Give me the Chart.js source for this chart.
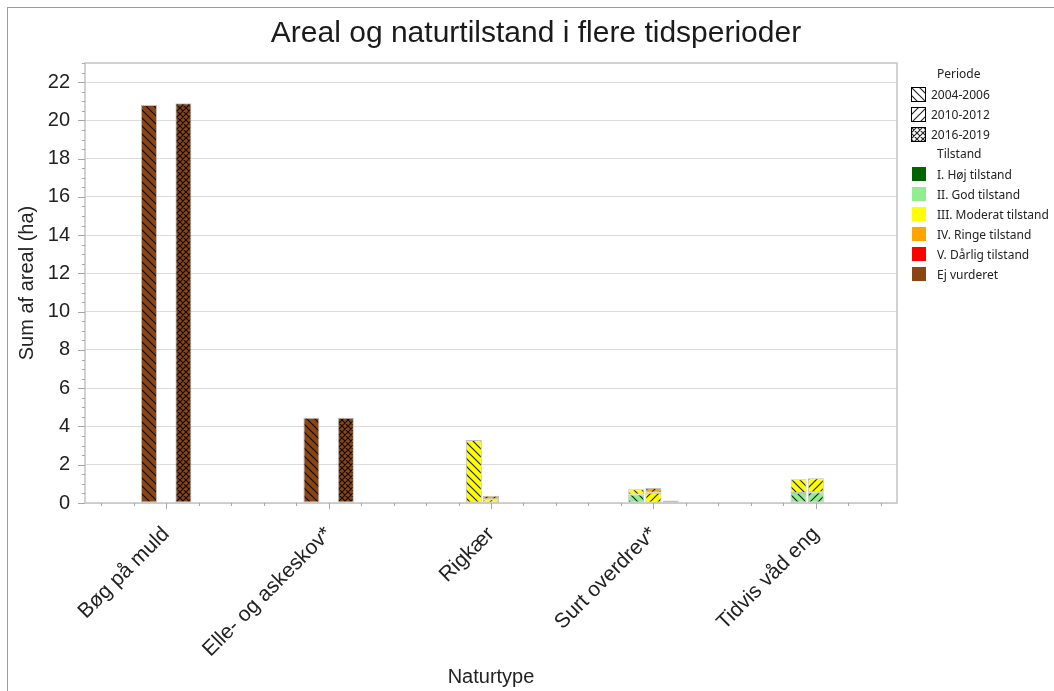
<!DOCTYPE html>
<html>
<head>
<meta charset="utf-8">
<script src="https://cdn.jsdelivr.net/npm/chart.js@4.4.1/dist/chart.umd.min.js"></script>
<style>
    html, body { margin: 0; padding: 0; background: #fff; overflow: hidden; }
    #wrap { position: relative; width: 1054px; height: 691px; }
    #frame { position: absolute; left: 7px; top: 7px; width: 1100px; height: 700px;
             border-left: 1px solid #9c9c9c; border-top: 1px solid #9c9c9c; }
    #title { position: absolute; left: 536px; top: 15px; transform: translateX(-50%);
             white-space: nowrap; font: 30px 'Liberation Sans', Arial, sans-serif; color: #1b1b1b; }
    #chart { position: absolute; left: 0; top: 0; }
    #legend { position: absolute; left: 911px; top: 64px; font: 12px 'Noto Sans', sans-serif; color: #222; }
    .head { height: 20px; line-height: 20px; padding-left: 26px; }
    .row { display: flex; align-items: center; height: 20px; white-space: nowrap; }
    .row canvas { flex: none; margin-right: 5px; }
    .row span.box { flex: none; margin-right: 10px; }
    span.box { display: inline-block; width: 16px; height: 16px; border: 1px solid #fff; box-sizing: border-box; }
</style>
</head>
<body>
<div id="wrap">
    <div id="frame"></div>
    <canvas id="chart" width="1054" height="691"></canvas>
    <div id="title">Areal og naturtilstand i flere tidsperioder</div>
    <div id="legend"></div>
</div>
<script>
// Categories, periods and condition classes
const categories = ['Bøg på muld', 'Elle- og askeskov*', 'Rigkær', 'Surt overdrev*', 'Tidvis våd eng'];
const periods = ['2004-2006', '2010-2012', '2016-2019'];
const states = ['I. Høj tilstand', 'II. God tilstand', 'III. Moderat tilstand',
    'IV. Ringe tilstand', 'V. Dårlig tilstand', 'Ej vurderet'];
const stateColors = ['#006400', '#90ee90', '#ffff00', '#ffa500', '#ff0000', '#8b4513'];
const periodHatch = ['back', 'fwd', 'cross'];

// Areal (ha) per periode og tilstand, null = intet areal
const p2004God = [null, null, null, 0.45, 0.52];
const p2004Moderat = [null, null, 3.29, 0.27, 0.72];
const p2004Ej = [20.8, 4.46, null, null, null];

const p2010God = [null, null, null, null, 0.56];
const p2010Moderat = [null, null, 0.2, 0.53, 0.73];
const p2010Ringe = [null, null, 0.18, 0.25, null];

const p2016God = [null, null, null, 0.13, null];
const p2016Ej = [20.9, 4.46, null, null, null];

// Y axis ticks
const yTicks = [0, 2, 4, 6, 8, 10, 12, 14, 16, 18, 20, 22];
const yMax = 23;

// series in stacking order (bottom to top) for each period
const series = [
    { period: 0, state: 1, values: p2004God },
    { period: 0, state: 2, values: p2004Moderat },
    { period: 0, state: 5, values: p2004Ej },
    { period: 1, state: 1, values: p2010God },
    { period: 1, state: 2, values: p2010Moderat },
    { period: 1, state: 3, values: p2010Ringe },
    { period: 2, state: 1, values: p2016God },
    { period: 2, state: 5, values: p2016Ej }
];

const canvas = document.getElementById('chart');
const ctx = canvas.getContext('2d');

// Hatch fill: base colour + black diagonal lines
function hatchTile(color, kind) {
    const size = kind === 'cross' ? 6 : 8;
    const c = document.createElement('canvas');
    c.width = size;
    c.height = size;
    const g = c.getContext('2d');
    g.fillStyle = color;
    g.fillRect(0, 0, size, size);
    g.strokeStyle = 'rgba(0, 0, 0, 0.85)';
    g.lineWidth = 1.2;
    g.beginPath();
    if (kind === 'back' || kind === 'cross') {
        g.moveTo(-1, -1); g.lineTo(size + 1, size + 1);
        g.moveTo(size - 1, -1); g.lineTo(size + 1, 1);
        g.moveTo(-1, size - 1); g.lineTo(1, size + 1);
    }
    if (kind === 'fwd' || kind === 'cross') {
        g.moveTo(-1, size + 1); g.lineTo(size + 1, -1);
        g.moveTo(-1, 1); g.lineTo(1, -1);
        g.moveTo(size - 1, size + 1); g.lineTo(size + 1, size - 1);
    }
    g.stroke();
    return c;
}

function hatch(color, kind) {
    return ctx.createPattern(hatchTile(color, kind), 'repeat');
}

const datasets = series.map(s => ({
    label: periods[s.period] + ' ' + states[s.state],
    data: s.values,
    stack: periods[s.period],
    backgroundColor: hatch(stateColors[s.state], periodHatch[s.period]),
    borderColor: 'rgba(150, 150, 150, 0.6)',
    borderWidth: 1,
    borderSkipped: false,
    categoryPercentage: 0.318,
    barPercentage: 0.93
}));

// frame round the plot area and the small tick marks
const axisDecor = {
    id: 'axisDecor',
    beforeDatasetsDraw(chart) {
        const { ctx, chartArea: a, scales: { y } } = chart;
        ctx.save();
        ctx.strokeStyle = '#c4c4c4';
        ctx.lineWidth = 1.5;
        ctx.strokeRect(a.left, a.top, a.right - a.left, a.bottom - a.top);
        ctx.strokeStyle = '#a6a6a6';
        ctx.lineWidth = 1;
        ctx.beginPath();
        for (let v = 0; v <= yMax; v += 0.5) {
            const py = Math.round(y.getPixelForValue(v)) + 0.5;
            const len = v % 2 === 0 ? 7 : 3;
            ctx.moveTo(a.left - len, py);
            ctx.lineTo(a.left, py);
        }
        const step = (a.right - a.left) / categories.length / 5;
        for (let i = 0; i < categories.length * 5; i++) {
            const px = Math.round(a.left + step * (i + 0.5)) + 0.5;
            const len = i % 5 === 2 ? 6 : 3;
            ctx.moveTo(px, a.bottom);
            ctx.lineTo(px, a.bottom + len);
        }
        ctx.stroke();
        ctx.restore();
    }
};

Chart.defaults.font.family = "'Liberation Sans', Arial, sans-serif";
Chart.defaults.color = '#1f1f1f';

new Chart(ctx, {
    type: 'bar',
    data: { labels: categories, datasets: datasets },
    options: {
        responsive: false,
        animation: false,
        layout: { padding: { left: 0, top: 63, right: 157, bottom: 0 } },
        plugins: {
            legend: { display: false },
            tooltip: { enabled: false }
        },
        scales: {
            x: {
                stacked: true,
                grid: { display: false },
                border: { display: false },
                ticks: { maxRotation: 45, minRotation: 45, padding: 11, font: { size: 21 }, color: '#222' },
                title: { display: true, text: 'Naturtype', font: { size: 20 }, color: '#222', padding: { top: 0, bottom: 2 } },
                afterFit(scale) {
                    scale.height = 188;
                    scale.paddingLeft = 0;
                    scale.paddingRight = 0;
                }
            },
            y: {
                stacked: true,
                min: 0,
                max: yMax,
                afterBuildTicks(scale) {
                    scale.ticks = yTicks.map(v => ({ value: v }));
                },
                grid: { color: '#dcdcdc', drawTicks: false },
                border: { display: false },
                ticks: { padding: 15, font: { size: 20 }, color: '#222' },
                title: { display: true, text: 'Sum af areal (ha)', font: { size: 20 }, color: '#222', padding: { top: 15, bottom: 0 } },
                afterFit(scale) {
                    scale.width = 85;
                    scale.paddingTop = 0;
                    scale.paddingBottom = 0;
                }
            }
        }
    },
    plugins: [axisDecor]
});

// Legend: Periode (hatch) and Tilstand (colour)
function buildLegend() {
    const legend = document.getElementById('legend');
    let html = '<div class="head">Periode</div>';
    periods.forEach((p, i) => {
        html += `<div class="row"><canvas id="sw${i}" width="15" height="15"></canvas>${p}</div>`;
    });
    html += '<div class="head">Tilstand</div>';
    states.forEach((s, i) => {
        html += `<div class="row"><span class="box" style="background:${stateColors[i]}"></span>${s}</div>`;
    });
    legend.innerHTML = html;

    periods.forEach((p, i) => {
        const sw = document.getElementById('sw' + i);
        const g = sw.getContext('2d');
        g.fillStyle = g.createPattern(hatchTile('#ffffff', periodHatch[i]), 'repeat');
        g.fillRect(0, 0, 15, 15);
        g.strokeStyle = '#000';
        g.lineWidth = 1;
        g.strokeRect(0.5, 0.5, 14, 14);
    });
}

buildLegend();
</script>
</body>
</html>
